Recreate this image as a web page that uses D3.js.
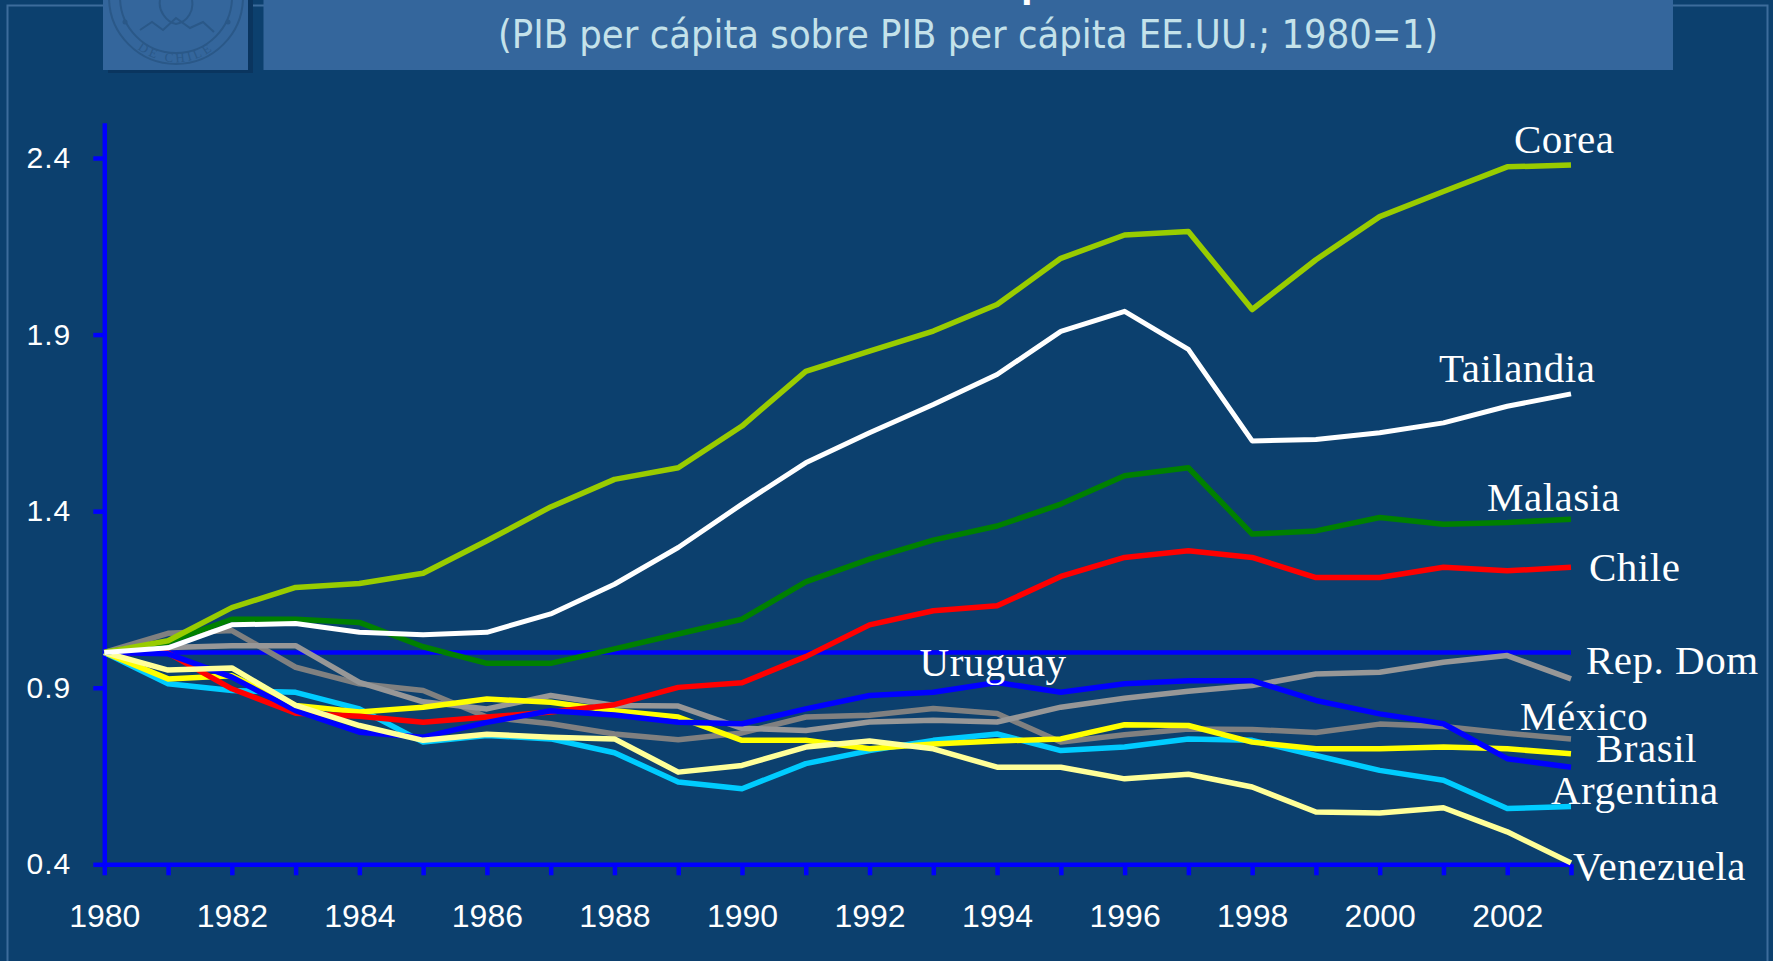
<!DOCTYPE html>
<html>
<head>
<meta charset="utf-8">
<script src="https://cdn.jsdelivr.net/npm/d3@7"></script>
<style>
  html, body { margin: 0; padding: 0; background: #0c406e; }
  svg { display: block; }
</style>
</head>
<body>
<svg id="chart" width="1773" height="961"></svg>
<script>
'use strict';

// categories and ticks
var years = [1980, 1981, 1982, 1983, 1984, 1985, 1986, 1987, 1988, 1989, 1990, 1991,
             1992, 1993, 1994, 1995, 1996, 1997, 1998, 1999, 2000, 2001, 2002, 2003];
var xTickLabels = [1980, 1982, 1984, 1986, 1988, 1990, 1992, 1994, 1996, 1998, 2000, 2002];
var yTicks = [0.4, 0.9, 1.4, 1.9, 2.4];

// PIB per capita relative to EE.UU. (1980 = 1)
var eeuu      = [1, 1, 1, 1, 1, 1, 1, 1, 1, 1, 1, 1, 1, 1, 1, 1, 1, 1, 1, 1, 1, 1, 1, 1];
var corea     = [1.00, 1.033, 1.127, 1.184, 1.195, 1.224, 1.316, 1.412, 1.490, 1.523, 1.641, 1.796,
                 1.853, 1.910, 1.985, 2.116, 2.182, 2.192, 1.971, 2.112, 2.234, 2.305, 2.375, 2.380];
var tailandia = [1.00, 1.013, 1.078, 1.082, 1.057, 1.050, 1.057, 1.109, 1.193, 1.297, 1.420, 1.537,
                 1.622, 1.702, 1.787, 1.909, 1.966, 1.858, 1.599, 1.603, 1.622, 1.650, 1.697, 1.732];
var malasia   = [1.00, 1.029, 1.094, 1.094, 1.085, 1.016, 0.969, 0.969, 1.010, 1.052, 1.094, 1.200,
                 1.264, 1.318, 1.358, 1.420, 1.500, 1.523, 1.335, 1.344, 1.382, 1.363, 1.368, 1.377];
var chile     = [1.00, 0.998, 0.897, 0.828, 0.819, 0.802, 0.817, 0.831, 0.852, 0.901, 0.914, 0.988,
                 1.078, 1.118, 1.132, 1.215, 1.269, 1.288, 1.269, 1.212, 1.212, 1.241, 1.231, 1.241];
var repDom    = [1.00, 1.014, 1.019, 1.019, 0.915, 0.860, 0.840, 0.878, 0.850, 0.848, 0.785, 0.779,
                 0.803, 0.808, 0.803, 0.845, 0.870, 0.890, 0.906, 0.939, 0.944, 0.972, 0.991, 0.925];
var uruguay   = [1.00, 0.996, 0.930, 0.835, 0.774, 0.760, 0.802, 0.835, 0.823, 0.802, 0.798, 0.840,
                 0.878, 0.887, 0.915, 0.887, 0.911, 0.920, 0.920, 0.864, 0.826, 0.798, 0.699, 0.675];
var mexico    = [1.00, 1.054, 1.062, 0.958, 0.911, 0.892, 0.817, 0.798, 0.769, 0.753, 0.772, 0.817,
                 0.822, 0.841, 0.827, 0.746, 0.767, 0.783, 0.782, 0.773, 0.797, 0.790, 0.771, 0.755];
var brasil    = [1.00, 0.925, 0.934, 0.850, 0.831, 0.845, 0.868, 0.859, 0.835, 0.817, 0.751, 0.751,
                 0.727, 0.741, 0.749, 0.755, 0.795, 0.793, 0.746, 0.727, 0.727, 0.732, 0.727, 0.713];
var argentina = [1.00, 0.911, 0.892, 0.887, 0.840, 0.746, 0.765, 0.755, 0.716, 0.633, 0.614, 0.685,
                 0.722, 0.751, 0.769, 0.722, 0.732, 0.755, 0.751, 0.708, 0.666, 0.638, 0.558, 0.564];
var venezuela = [1.00, 0.950, 0.956, 0.850, 0.793, 0.751, 0.768, 0.760, 0.755, 0.661, 0.680, 0.732,
                 0.749, 0.727, 0.675, 0.675, 0.642, 0.655, 0.619, 0.548, 0.545, 0.560, 0.492, 0.404];

var subtitle = '(PIB per cápita sobre PIB per cápita EE.UU.; 1980=1)';

// drawing order, colours and label placement (offsets from the labelled point)
var series = [
  { name: '',          values: eeuu,      color: '#0000ff', width: 4.5 },
  { name: 'México',    values: mexico,    color: '#808080', width: 5.5, dx: -51, dy: -9 },
  { name: 'Rep. Dom',  values: repDom,    color: '#979797', width: 5.5, dx: 15,  dy: -5 },
  { name: 'Argentina', values: argentina, color: '#00ccff', width: 5.5, dx: -20, dy: -2 },
  { name: 'Brasil',    values: brasil,    color: '#ffff00', width: 5.5, dx: 25,  dy: 8 },
  { name: 'Chile',     values: chile,     color: '#ff0000', width: 5.5, dx: 18,  dy: 14 },
  { name: 'Uruguay',   values: uruguay,   color: '#0000ff', width: 5.5, at: 1994, dx: -4, dy: -6, anchor: 'middle' },
  { name: 'Venezuela', values: venezuela, color: '#ffff99', width: 5.5, dx: 2,   dy: 17 },
  { name: 'Malasia',   values: malasia,   color: '#008000', width: 5.5, dx: -84, dy: -8 },
  { name: 'Corea',     values: corea,     color: '#99cc00', width: 5.5, dx: -57, dy: -12 },
  { name: 'Tailandia', values: tailandia, color: '#ffffff', width: 5, dx: -132, dy: -12 }
];

var svg = d3.select('#chart');

// slide background, frame and header
svg.append('rect').attr('width', 1773).attr('height', 961).attr('fill', '#0c406e');
svg.append('path')
  .attr('d', 'M7.5,961V5.5H1767.5V961')
  .attr('fill', 'none').attr('stroke', '#3d6c9b').attr('stroke-width', 2);

svg.append('rect').attr('x', 108).attr('y', 0).attr('width', 145).attr('height', 73).attr('fill', '#0a355f');
svg.append('rect').attr('x', 103).attr('y', 0).attr('width', 145).attr('height', 70).attr('fill', '#34669c');

// faint seal in the logo box
var logo = svg.append('g').attr('fill', 'none').attr('stroke', '#2a5888').attr('stroke-width', 2);
logo.append('circle').attr('cx', 176).attr('cy', -3).attr('r', 67);
logo.append('circle').attr('cx', 176).attr('cy', -3).attr('r', 56);
logo.append('path').attr('d', 'M140,30L152,22L163,30L176,18L190,28L203,22L214,32');
logo.append('path').attr('d', 'M160,0C158,10 166,22 176,24C188,22 194,10 192,0');
svg.append('circle').attr('cx', 125).attr('cy', 22).attr('r', 2.5).attr('fill', '#2a5888');
svg.append('circle').attr('cx', 228).attr('cy', 22).attr('r', 2.5).attr('fill', '#2a5888');
svg.append('defs').append('path').attr('id', 'sealArc')
  .attr('d', 'M118,22A62,62 0 0,0 234,22');
svg.append('text')
  .attr('font-family', 'Liberation Serif, serif').attr('font-size', 13)
  .attr('fill', '#2a5888').attr('letter-spacing', 3)
  .append('textPath').attr('href', '#sealArc').attr('startOffset', '50%')
  .attr('text-anchor', 'middle').text('DE CHILE');

svg.append('rect').attr('x', 263.5).attr('y', 0).attr('width', 1409.5).attr('height', 70).attr('fill', '#34669c');

// bottom of the cut-off title
svg.append('text').attr('x', 1021).attr('y', -3.7)
  .attr('font-family', 'Liberation Sans, Arial, sans-serif').attr('font-weight', 'bold')
  .attr('font-size', 42).attr('fill', '#ffffff').text('p');

svg.append('text').attr('x', 968).attr('y', 48).attr('text-anchor', 'middle')
  .attr('font-family', 'DejaVu Sans Condensed, DejaVu Sans, sans-serif')
  .attr('font-stretch', 'condensed')
  .attr('font-size', 39.5).attr('fill', '#c4e2ea').text(subtitle);

// scales and axes
var x = d3.scalePoint().domain(years).range([104.3, 1571]);
var y = d3.scaleLinear().domain([0.4, 2.5]).range([864.3, 122.7]);

var yAxis = d3.axisLeft(y).tickValues(yTicks).tickSize(11).tickSizeOuter(0)
  .tickPadding(22).tickFormat(d3.format('.1f'));
var xAxis = d3.axisBottom(x).tickSize(11).tickSizeOuter(0).tickPadding(29)
  .tickFormat(function (d) { return xTickLabels.indexOf(d) >= 0 ? d : ''; });

var gy = svg.append('g').attr('transform', 'translate(104.3,0)').call(yAxis);
var gx = svg.append('g').attr('transform', 'translate(0,864.3)').call(xAxis);

[gx, gy].forEach(function (g) {
  g.select('.domain').attr('stroke', '#0000ff').attr('stroke-width', 4.5);
  g.selectAll('.tick line').attr('stroke', '#0000ff').attr('stroke-width', 4.5);
  g.selectAll('.tick text')
    .attr('fill', '#ffffff')
    .attr('font-family', 'Liberation Sans, Arial, sans-serif');
});
gx.selectAll('.tick text').attr('font-size', 32);
gy.selectAll('.tick text').attr('font-size', 30).attr('letter-spacing', 1);

// lines
var line = d3.line()
  .x(function (d, i) { return x(years[i]); })
  .y(function (d) { return y(d); });

svg.append('g').selectAll('path')
  .data(series)
  .join('path')
  .attr('d', function (s) { return line(s.values); })
  .attr('fill', 'none')
  .attr('stroke', function (s) { return s.color; })
  .attr('stroke-width', function (s) { return s.width; })
  .attr('stroke-linejoin', 'round');

// country labels
svg.append('g').selectAll('text')
  .data(series.filter(function (s) { return s.name; }))
  .join('text')
  .attr('x', function (s) {
    var yr = s.at || years[years.length - 1];
    return x(yr) + s.dx;
  })
  .attr('y', function (s) {
    var yr = s.at || years[years.length - 1];
    return y(s.values[years.indexOf(yr)]) + s.dy;
  })
  .attr('text-anchor', function (s) { return s.anchor || 'start'; })
  .attr('font-family', 'Liberation Serif, Times New Roman, serif')
  .attr('font-size', 41)
  .attr('letter-spacing', 0.5)
  .attr('fill', '#ffffff')
  .text(function (s) { return s.name; });
</script>
</body>
</html>
